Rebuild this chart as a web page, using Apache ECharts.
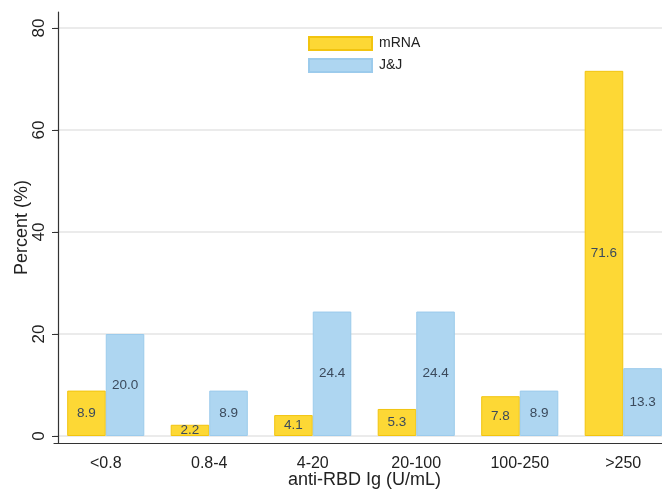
<!DOCTYPE html>
<html>
<head>
<meta charset="utf-8">
<script src="https://cdn.jsdelivr.net/npm/echarts@6/dist/echarts.min.js"></script>
<style>
  html, body { margin: 0; padding: 0; background: #fff; }
  #chart { width: 662px; height: 491px; }
</style>
</head>
<body>
<div id="chart"></div>
<script>
// categories and series values
const categories = ["<0.8", "0.8-4", "4-20", "20-100", "100-250", ">250"];
const mrna = [8.9, 2.2, 4.1, 5.3, 7.8, 71.6];
const jj = [20.0, 8.9, 24.4, 24.4, 8.9, 13.3];
const yTicks = [0, 20, 40, 60, 80];

var myChart = echarts.init(document.getElementById("chart"));

const labelStyle = {
  show: true,
  position: "inside",
  color: "#3b4a5c",
  fontSize: 13.5,
  fontFamily: "Liberation Sans",
  formatter: (p) => p.value.toFixed(1),
};

let option = {
  animation: false,
  textStyle: { fontFamily: "Liberation Sans" },
  grid: {
    left: 54,
    top: 12,
    width: 621,
    height: 431,
    containLabel: false,
    outerBoundsMode: "none",
  },
  legend: {
    orient: "vertical",
    left: 303,
    top: 31,
    itemWidth: 63,
    itemHeight: 13,
    itemGap: 7,
    icon: "rect",
    textStyle: { fontSize: 14, color: "#222", padding: [0, 0, 0, 2] },
    data: ["mRNA", "J&J"],
  },
  xAxis: {
    type: "category",
    data: categories,
    name: "anti-RBD Ig (U/mL)",
    nameLocation: "middle",
    nameGap: 28,
    nameMoveOverlap: false,
    nameTextStyle: { fontSize: 18, color: "#222" },
    axisLine: { onZero: false, lineStyle: { color: "#333", width: 1.2 } },
    axisTick: { show: false },
    axisLabel: { fontSize: 16, color: "#222", margin: 13 },
  },
  yAxis: {
    type: "value",
    min: -1.373,
    max: 83.137,
    offset: -4,
    name: "Percent (%)",
    nameLocation: "middle",
    nameGap: 27,
    nameMoveOverlap: false,
    nameTextStyle: { fontSize: 18, color: "#222" },
    axisLine: { show: true, lineStyle: { color: "#333", width: 1.2 } },
    axisTick: { show: true, length: 6, customValues: yTicks, lineStyle: { color: "#333" } },
    axisLabel: { fontSize: 17, color: "#222", rotate: 90, margin: 10, customValues: yTicks },
    splitLine: { show: false },
  },
  series: [
    {
      name: "mRNA",
      type: "bar",
      data: mrna,
      barGap: "0%",
      barCategoryGap: "25.5%",
      itemStyle: { color: "#fdd835", borderColor: "#f2c40f", borderWidth: 1 },
      label: labelStyle,
      markLine: {
        silent: true,
        symbol: "none",
        label: { show: false },
        lineStyle: { color: "#e4e4e4", type: "solid", width: 1.5 },
        data: yTicks.map((v) => ({ yAxis: v })),
        z: 0,
      },
      z: 2,
    },
    {
      name: "J&J",
      type: "bar",
      data: jj,
      itemStyle: { color: "#aed6f1", borderColor: "#9ccbec", borderWidth: 1 },
      label: labelStyle,
      z: 2,
    },
  ],
};
myChart.setOption(option);
</script>
</body>
</html>
